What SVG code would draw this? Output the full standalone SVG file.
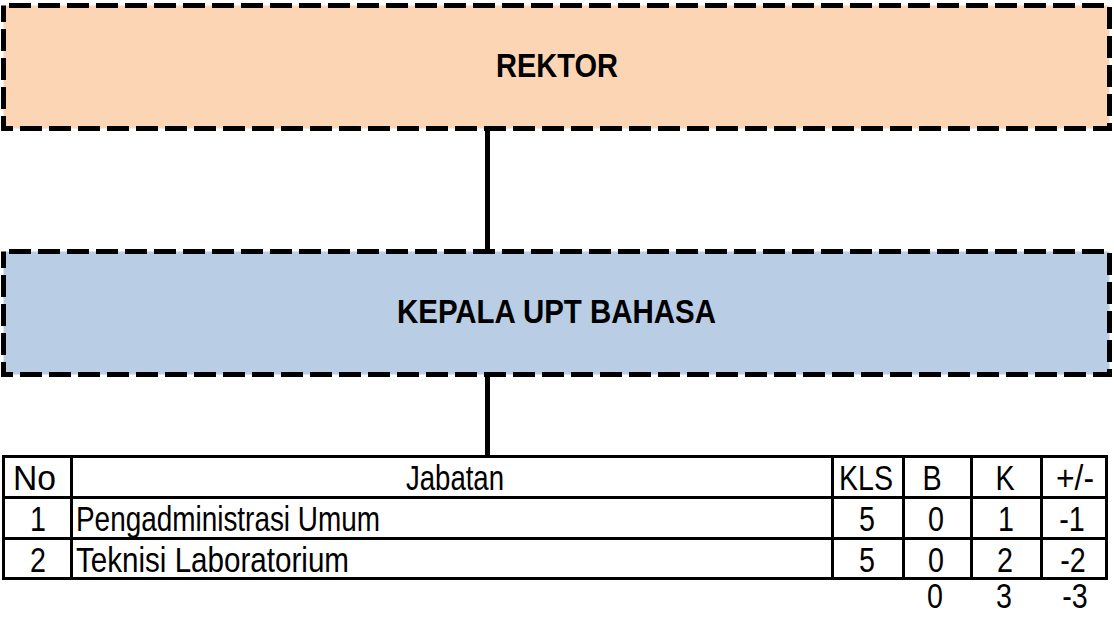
<svg xmlns="http://www.w3.org/2000/svg" width="1114" height="621" viewBox="0 0 1114 621">
<style>
.box{stroke:#000;stroke-width:5;stroke-dasharray:22 7;stroke-dashoffset:23.5}
.conn{stroke:#000;stroke-width:5;fill:none}
.grid{stroke:#000;stroke-width:3;fill:none}
.h{font-family:"Liberation Sans",Arial,sans-serif;font-weight:bold;font-size:33px;fill:#000}
.t{font-family:"Liberation Sans",Arial,sans-serif;font-size:35px;fill:#000}
.c{text-anchor:middle}
</style>
<rect width="1114" height="621" fill="#fff"/>
<g id="connectors">
<line class="conn" x1="487.5" y1="130" x2="487.5" y2="250"/>
<line class="conn" x1="487.5" y1="376" x2="487.5" y2="456"/>
</g>
<g id="rektor">
<rect class="box" x="3.5" y="5.5" width="1106" height="123" fill="#FCD5B5"/>
<text class="h" x="496" y="77" textLength="122" lengthAdjust="spacingAndGlyphs">REKTOR</text>
</g>
<g id="kepala">
<rect class="box" x="3.5" y="251.5" width="1106" height="123" fill="#B9CDE5"/>
<text class="h" x="397" y="323" textLength="319" lengthAdjust="spacingAndGlyphs">KEPALA UPT BAHASA</text>
</g>
<g id="table">
<path class="grid" d="M2 456.5H1108M2 497.5H1108M2 538.5H1108M2 578.5H1108M3.5 455V580M71.5 455V580M832.5 455V580M903.5 455V580M971.5 455V580M1041.5 455V580M1106.5 455V580"/>
<text class="t" x="13" y="490" textLength="43" lengthAdjust="spacingAndGlyphs">No</text>
<text class="t" x="406" y="490" textLength="98" lengthAdjust="spacingAndGlyphs">Jabatan</text>
<text class="t" x="839" y="490" textLength="54" lengthAdjust="spacingAndGlyphs">KLS</text>
<text class="t c" transform="translate(932,490) scale(0.82,1)">B</text>
<text class="t c" transform="translate(1005,490) scale(0.82,1)">K</text>
<text class="t" x="1056" y="490" textLength="38" lengthAdjust="spacingAndGlyphs">+/-</text>
<text class="t c" transform="translate(38,531) scale(0.82,1)">1</text>
<text class="t" x="76" y="531" textLength="304" lengthAdjust="spacingAndGlyphs">Pengadministrasi Umum</text>
<text class="t c" transform="translate(867,531) scale(0.82,1)">5</text>
<text class="t c" transform="translate(936,531) scale(0.82,1)">0</text>
<text class="t c" transform="translate(1006,531) scale(0.82,1)">1</text>
<text class="t c" transform="translate(1072,531) scale(0.82,1)">-1</text>
<text class="t c" transform="translate(38,572) scale(0.82,1)">2</text>
<text class="t" x="76" y="572" textLength="273" lengthAdjust="spacingAndGlyphs">Teknisi Laboratorium</text>
<text class="t c" transform="translate(867,572) scale(0.82,1)">5</text>
<text class="t c" transform="translate(936,572) scale(0.82,1)">0</text>
<text class="t c" transform="translate(1005,572) scale(0.82,1)">2</text>
<text class="t c" transform="translate(1073,572) scale(0.82,1)">-2</text>
<text class="t c" transform="translate(935,608) scale(0.82,1)">0</text>
<text class="t c" transform="translate(1004,608) scale(0.82,1)">3</text>
<text class="t c" transform="translate(1075,608) scale(0.82,1)">-3</text>
</g>
</svg>
